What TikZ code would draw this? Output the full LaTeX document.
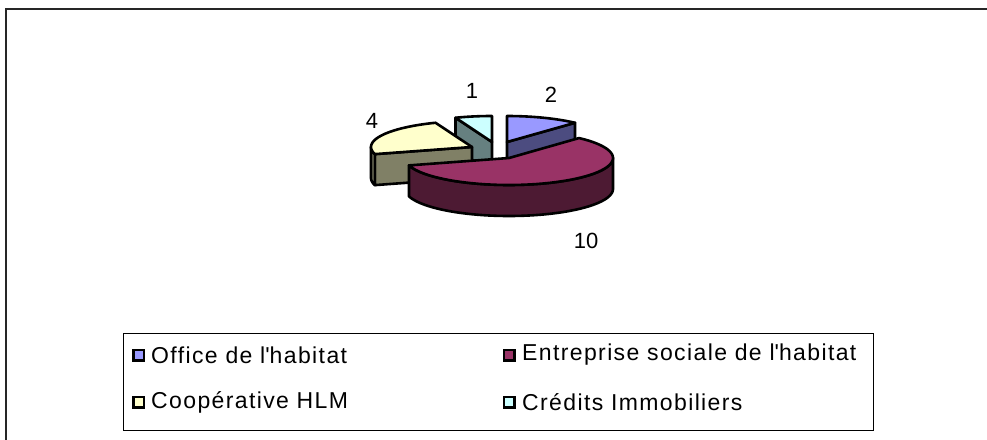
\documentclass[tikz,border=0pt]{standalone}
\usepackage{fontspec}
\setmainfont{Liberation Sans}
\newfontfamily\legfont[LetterSpace=6]{Liberation Sans}
\definecolor{offtop}{HTML}{9999FF}
\definecolor{offside}{HTML}{4C4C80}
\definecolor{enttop}{HTML}{993366}
\definecolor{entside}{HTML}{4D1A33}
\definecolor{cooptop}{HTML}{FFFFCC}
\definecolor{coopside}{HTML}{808066}
\definecolor{credtop}{HTML}{CCFFFF}
\definecolor{credside}{HTML}{668080}
\def\pieR{101}
\def\pier{26}
\def\pieh{31}
\def\entR{104}
\def\entr{27}
\begin{document}
\begin{tikzpicture}[x=1pt,y=-1pt,
  face/.style={draw=black,line width=2.6pt,line join=round},
  lbl/.style={font=\fontsize{22}{26}\selectfont,inner sep=0pt},
  legtext/.style={font=\legfont\fontsize{23}{27}\selectfont,inner sep=0pt,anchor=west},
  legsq/.style={draw=black,line width=2.5pt,minimum size=10.5pt,inner sep=0pt}]
\useasboundingbox (0,0) rectangle (987,439);
% outer frame
\draw[line width=2pt,black!85] (6,441) -- (6,9) -- (989,9);
% ---- Credits Immobiliers (apex 492,142), 338.8 -> 360
\coordinate (cA) at (492,142);
\coordinate (cP) at ({492+\pieR*sin(338.824)},{142-\pier*cos(338.824)});
\filldraw[face,fill=credside] (cA) -- (cP) -- ([yshift=-\pieh pt]cP) -- ([yshift=-\pieh pt]cA) -- cycle;
\filldraw[face,fill=credtop] (cA) -- plot[domain=338.824:360,samples=20] ({492+\pieR*sin(\x)},{142-\pier*cos(\x)}) -- cycle;
% ---- Office de l'habitat (apex 507,142), 0 -> 42.35
\coordinate (oA) at (507,142);
\coordinate (oP) at ({507+\pieR*sin(42.353)},{142-\pier*cos(42.353)});
\filldraw[face,fill=offside] (oA) -- (oP) -- ([yshift=-\pieh pt]oP) -- ([yshift=-\pieh pt]oA) -- cycle;
\filldraw[face,fill=offtop] (oA) -- plot[domain=0:42.353,samples=20] ({507+\pieR*sin(\x)},{142-\pier*cos(\x)}) -- cycle;
% ---- Cooperative HLM (apex 472,147), 254.1 -> 338.8
\coordinate (kA) at (472,147);
\coordinate (kP) at ({472+\pieR*sin(254.118)},{147-\pier*cos(254.118)});
\filldraw[face,fill=coopside] (kA) -- (kP) -- ([yshift=-\pieh pt]kP) -- ([yshift=-\pieh pt]kA) -- cycle;
\filldraw[face,fill=coopside] plot[domain=254.118:270,samples=10] ({472+\pieR*sin(\x)},{147-\pier*cos(\x)})
   -- plot[domain=270:254.118,samples=10] ({472+\pieR*sin(\x)},{147+\pieh-\pier*cos(\x)}) -- cycle;
\filldraw[face,fill=cooptop] (kA) -- plot[domain=254.118:338.824,samples=30] ({472+\pieR*sin(\x)},{147-\pier*cos(\x)}) -- cycle;
% ---- Entreprise sociale de l'habitat (apex 509,158), 42.35 -> 254.1
\coordinate (eA) at (509,158);
\filldraw[face,fill=entside] plot[domain=90:254.118,samples=50] ({509+\entR*sin(\x)},{158-\entr*cos(\x)})
   -- plot[domain=254.118:90,samples=50] ({509+\entR*sin(\x)},{158+\pieh-\entr*cos(\x)}) -- cycle;
\filldraw[face,fill=enttop] (eA) -- plot[domain=42.353:254.118,samples=60] ({509+\entR*sin(\x)},{158-\entr*cos(\x)}) -- cycle;
% data labels
\node[lbl] (l1) at (472,91) {1};
\node[lbl] (l2) at (551,95) {2};
\node[lbl] (l4) at (372,121) {4};
\node[lbl] (l10) at (586,241) {10};
% legend
\node[draw=black,line width=1.2pt,minimum width=750pt,minimum height=97pt,inner sep=0pt,anchor=north west] (legend) at (123,333) {};
\node[legsq,fill=offtop] (s1) at (138.5,355) {};
\node[legtext] (t1) at (151,355) {Office de l\textquotesingle habitat};
\node[legsq,fill=enttop] (s2) at (509,355) {};
\node[legtext] (t2) at (522,355) {Entreprise sociale de l\textquotesingle habitat};
\node[legsq,fill=cooptop] (s3) at (138.5,402) {};
\node[legtext] (t3) at (151,402) {Coopérative HLM};
\node[legsq,fill=credtop] (s4) at (509,402) {};
\node[legtext] (t4) at (522,402) {Crédits Immobiliers};
\end{tikzpicture}
\end{document}
